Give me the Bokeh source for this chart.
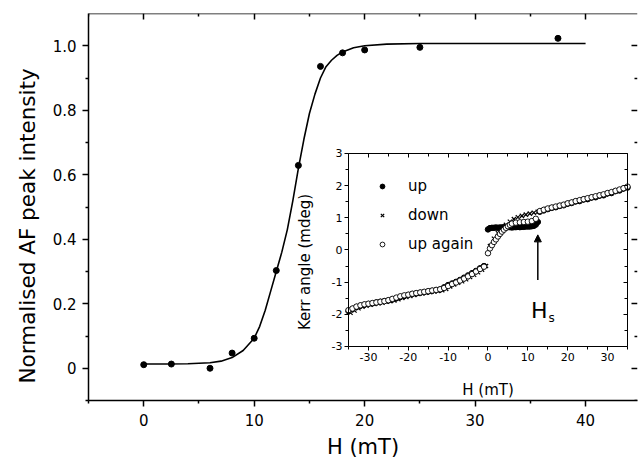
import math
from bokeh.plotting import figure
from bokeh.models import (Range1d, LinearAxis, FixedTicker, Legend, LegendItem,
                          Arrow, NormalHead, Label, Title, CustomJSTickFormatter)
from bokeh.embed import file_html
from bokeh.resources import INLINE

FONT = "DejaVu Sans"

# ---------------- main panel data ----------------
field_mT = [0, 2.5, 6, 8, 10, 12, 14, 16, 18, 20, 25, 37.5]
af_intensity = [0.011, 0.013, 0.0, 0.047, 0.093, 0.303, 0.629, 0.936, 0.978, 0.987, 0.995, 1.023]

fit_field = [0, 2, 4, 6, 7, 8, 9, 10, 10.5, 11, 11.5, 12, 12.5, 13, 13.5, 14, 14.5, 15,
             15.5, 16, 16.5, 17, 17.5, 18, 19, 20, 22, 25, 30, 35, 40]
fit_intensity = [0.013, 0.013, 0.014, 0.017, 0.022, 0.033, 0.055, 0.093, 0.13, 0.18, 0.24,
                 0.30, 0.36, 0.43, 0.52, 0.62, 0.71, 0.79, 0.85, 0.90, 0.935, 0.955, 0.97,
                 0.981, 0.994, 1.0, 1.005, 1.007, 1.007, 1.007, 1.007]

main_x_ticks = [0, 10, 20, 30, 40]
main_x_minor = [-5, 5, 15, 25, 35]
main_y_ticks = [0, 0.2, 0.4, 0.6, 0.8, 1.0]
main_y_minor = [-0.1, 0.1, 0.3, 0.5, 0.7, 0.9]

# ---------------- inset data (Kerr loops) ----------------
up_field = [-35, -34, -33, -32, -31, -30, -29, -28, -27, -26, -25, -24, -23, -22, -21, -20,
            -19, -18, -17, -16, -15, -14, -13, -12, -11, -10, -9, -8, -7, -6, -5, -4, -3, -2, -1,
            0, 0.5, 1, 1.5, 2, 2.5, 3, 3.5, 4, 4.5, 5, 5.5, 6, 6.5, 7, 7.5, 8, 8.5, 9, 9.5,
            10, 10.5, 11, 11.5, 12, 12.5,
            13, 14, 15, 16, 17, 18, 19, 20, 21, 22, 23, 24, 25, 26, 27, 28, 29, 30, 31, 32, 33, 34, 35]
up_kerr = [-1.90, -1.83, -1.77, -1.73, -1.70, -1.68, -1.66, -1.63, -1.61, -1.59, -1.57, -1.54,
           -1.50, -1.46, -1.43, -1.40, -1.37, -1.35, -1.33, -1.31, -1.29, -1.27, -1.25, -1.23,
           -1.16, -1.09, -1.04, -0.99, -0.93, -0.86, -0.79, -0.72, -0.65, -0.57, -0.50,
           0.64, 0.68, 0.69, 0.69, 0.70, 0.69, 0.70, 0.70, 0.71, 0.70, 0.71, 0.71, 0.70, 0.71,
           0.71, 0.72, 0.71, 0.72, 0.72, 0.73, 0.73, 0.73, 0.74, 0.75, 0.79, 0.87,
           1.19, 1.23, 1.27, 1.31, 1.33, 1.37, 1.39, 1.44, 1.46, 1.51, 1.52, 1.57, 1.58, 1.63,
           1.64, 1.69, 1.70, 1.76, 1.77, 1.83, 1.85, 1.91, 1.94]

down_field = [-34.5, -33.5, -32.5, -31.5, -30.5, -29.5, -28.5, -27.5, -26.5, -25.5, -24.5,
              -23.5, -22.5, -21.5, -20.5, -19.5, -18.5, -17.5, -16.5, -15.5, -14.5, -13.5,
              -12.5, -11.5, -10.5, -9.5, -8.5, -7.5, -6.5, -5.5, -4.5, -3.5, -2.5, -1.5, -0.5,
              0.5, 1.5, 2.5, 3.5, 4.5, 5.5, 6.5, 7.5, 8.5, 9.5, 10.5, 11.5, 12.5, 13.5, 14.5,
              15.5, 16.5, 17.5, 18.5, 19.5, 20.5, 21.5, 22.5, 23.5, 24.5, 25.5, 26.5, 27.5,
              28.5, 29.5, 30.5, 31.5, 32.5, 33.5, 34.5]
down_kerr = [-1.95, -1.88, -1.81, -1.76, -1.73, -1.70, -1.68, -1.66, -1.64, -1.61, -1.59,
             -1.57, -1.53, -1.49, -1.46, -1.43, -1.40, -1.37, -1.35, -1.33, -1.31, -1.29,
             -1.27, -1.25, -1.21, -1.13, -1.07, -1.02, -0.97, -0.91, -0.84, -0.77, -0.69,
             -0.61, -0.50,
             0.12, 0.35, 0.52, 0.66, 0.78, 0.88, 0.96, 1.02, 1.06, 1.10, 1.13, 1.16, 1.19,
             1.23, 1.27, 1.30, 1.33, 1.36, 1.39, 1.42, 1.45, 1.49, 1.52, 1.55, 1.58, 1.61,
             1.64, 1.67, 1.70, 1.73, 1.77, 1.81, 1.85, 1.89, 1.93]

again_field = [-35, -34, -33, -32, -31, -30, -29, -28, -27, -26, -25, -24, -23, -22, -21, -20,
               -19, -18, -17, -16, -15, -14, -13, -12, -11, -10, -9, -8, -7, -6, -5, -4, -3, -2, -1,
               0, 0.5, 1, 1.5, 2, 2.5, 3, 3.5, 4, 4.5, 5, 5.5, 6,
               7, 8, 9, 10, 11, 12,
               13, 14, 15, 16, 17, 18, 19, 20, 21, 22, 23, 24, 25, 26, 27, 28, 29, 30, 31, 32, 33, 34, 35]
again_kerr = [-1.87, -1.82, -1.76, -1.72, -1.69, -1.67, -1.65, -1.63, -1.61, -1.59, -1.56,
              -1.52, -1.48, -1.44, -1.41, -1.39, -1.36, -1.34, -1.32, -1.30, -1.28, -1.26,
              -1.24, -1.22, -1.18, -1.12, -1.06, -1.01, -0.95, -0.89, -0.82, -0.75, -0.67,
              -0.59, -0.52,
              -0.10, 0.05, 0.15, 0.25, 0.33, 0.42, 0.50, 0.57, 0.63, 0.69, 0.74, 0.78, 0.82,
              0.85, 0.86, 0.87, 0.88, 0.90, 0.97,
              1.21, 1.25, 1.29, 1.32, 1.35, 1.38, 1.41, 1.45, 1.48, 1.52, 1.55, 1.58, 1.61,
              1.64, 1.67, 1.70, 1.73, 1.77, 1.80, 1.84, 1.88, 1.92, 1.97]

inset_x_ticks = [-30, -20, -10, 0, 10, 20, 30]
inset_x_minor = [-35, -25, -15, -5, 5, 15, 25, 35]
inset_y_ticks = [-3, -2, -1, 0, 1, 2, 3]
inset_y_minor = [-2.5, -1.5, -0.5, 0.5, 1.5, 2.5]

hs_field = 12.5          # saturation field marked by the arrow
hs_arrow_from = -0.93
hs_arrow_to = 0.47

# ---------------- figure ----------------
p = figure(width=638, height=464, output_backend="svg", toolbar_location=None,
           x_range=Range1d(-5, 44.7), y_range=Range1d(-0.1, 1.1),
           x_axis_location=None, y_axis_location=None,
           min_border_left=88, min_border_right=1, min_border_top=13, min_border_bottom=64)
p.outline_line_color = None
p.background_fill_color = "white"
p.border_fill_color = "white"
for g in p.grid:
    g.visible = False

# inset ranges mapped so the inset box sits inside the frame
p.extra_x_ranges = {"ix": Range1d(-100.23, 37.51)}
p.extra_y_ranges = {"iy": Range1d(-4.679, 7.352)}


def style(ax, size="15px", lw=1.5, tin=0, tout=6, mtin=0, mtout=3, labels=True, standoff=7):
    ax.axis_line_width = lw
    ax.axis_line_color = "black"
    ax.major_tick_line_color = "black"
    ax.minor_tick_line_color = "black"
    ax.major_tick_line_width = lw
    ax.minor_tick_line_width = lw
    ax.major_tick_in = tin
    ax.major_tick_out = tout
    ax.minor_tick_in = mtin
    ax.minor_tick_out = mtout
    ax.major_label_text_font = FONT
    ax.major_label_text_font_size = size
    ax.major_label_text_color = "black"
    ax.major_label_standoff = standoff
    if not labels:
        ax.major_label_text_color = None


main_xt = FixedTicker(ticks=main_x_ticks, minor_ticks=main_x_minor)
main_yt = FixedTicker(ticks=main_y_ticks, minor_ticks=main_y_minor)

xb = LinearAxis(ticker=main_xt)
style(xb, tout=6, mtout=3, standoff=7)
xb.major_label_text_line_height = 0.9
p.add_layout(xb, "below")

xt = LinearAxis(ticker=main_xt, fixed_location=1.1)
style(xt, tin=6, tout=0, mtin=3, mtout=0, labels=False)
p.add_layout(xt, "above")

yl = LinearAxis(ticker=main_yt,
                formatter=CustomJSTickFormatter(code="return tick === 0 ? '0' : tick.toFixed(1);"))
style(yl, tout=6, mtout=3, standoff=6)
p.add_layout(yl, "left")

yr = LinearAxis(ticker=main_yt, fixed_location=44.7)
style(yr, tin=6, tout=0, mtin=3, mtout=0, labels=False)
yr.axis_line_color = None
p.add_layout(yr, "right")

# axis titles as side titles (allow shifting along the axis)
p.add_layout(Title(text="Normalised AF peak intensity", align="left", offset=17,
                   standoff=20, text_font=FONT, text_font_size="21.5px",
                   text_font_style="normal", text_line_height=0.8,
                   text_color="black"), "left")
p.add_layout(Title(text="H (mT)", align="center", standoff=9, text_font=FONT,
                   text_font_size="21px", text_font_style="normal", text_line_height=0.8,
                   text_color="black"), "below")

# main data
p.line(fit_field, fit_intensity, line_width=1.6, line_color="black")
p.scatter(field_mT, af_intensity, size=6, marker="circle", color="black")

# ---------------- inset ----------------
ixt = FixedTicker(ticks=inset_x_ticks, minor_ticks=inset_x_minor)
iyt = FixedTicker(ticks=inset_y_ticks, minor_ticks=inset_y_minor)
fmt0 = CustomJSTickFormatter(code="return tick.toFixed(0);")

ib = LinearAxis(x_range_name="ix", y_range_name="iy", fixed_location=-3, bounds=(-35, 35),
                ticker=ixt, formatter=fmt0)
style(ib, size="11px", lw=1, tout=4, mtout=3, standoff=3)
p.add_layout(ib, "below")

itop = LinearAxis(x_range_name="ix", y_range_name="iy", fixed_location=3, bounds=(-35, 35),
                  ticker=ixt)
style(itop, lw=1, tin=4, tout=0, mtin=3, mtout=0, labels=False)
p.add_layout(itop, "above")

il = LinearAxis(x_range_name="ix", y_range_name="iy", fixed_location=-35, bounds=(-3, 3),
                ticker=iyt, formatter=fmt0)
style(il, size="11px", lw=1, tout=4, mtout=3, standoff=2)
p.add_layout(il, "left")

ir = LinearAxis(x_range_name="ix", y_range_name="iy", fixed_location=35, bounds=(-3, 3),
                ticker=iyt)
style(ir, lw=1, tin=4, tout=0, mtin=3, mtout=0, labels=False)
p.add_layout(ir, "right")

r_up = p.scatter(up_field, up_kerr, x_range_name="ix", y_range_name="iy", marker="circle",
                 size=5.5, color="black")
r_down = p.scatter(down_field, down_kerr, x_range_name="ix", y_range_name="iy", marker="x",
                   size=6, line_color="black", line_width=1.2)
r_again = p.scatter(again_field, again_kerr, x_range_name="ix", y_range_name="iy",
                    marker="circle", size=5.5, line_color="black", fill_color="white",
                    line_width=0.9)

legend = Legend(items=[LegendItem(label="up", renderers=[r_up]),
                       LegendItem(label="down", renderers=[r_down]),
                       LegendItem(label="up again", renderers=[r_again])],
                location=(288, 146), orientation="vertical",
                label_text_font=FONT, label_text_font_size="15px", label_text_color="black",
                glyph_width=12, glyph_height=20, label_height=20, spacing=9,
                label_standoff=20, padding=0, margin=0,
                border_line_color=None, background_fill_alpha=0)
p.add_layout(legend)

p.add_layout(Label(x=0, y=-4.346, x_range_name="ix", y_range_name="iy", text="H (mT)",
                   text_font=FONT, text_font_size="15px", text_align="center",
                   text_baseline="alphabetic", text_color="black"))
p.add_layout(Label(x=-46.0, y=-0.373, x_range_name="ix", y_range_name="iy",
                   text="Kerr angle (mdeg)", text_font=FONT, text_font_size="15px",
                   angle=math.pi / 2, text_align="center", text_baseline="alphabetic",
                   text_color="black"))

p.add_layout(Arrow(x_start=hs_field, y_start=hs_arrow_from, x_end=hs_field, y_end=hs_arrow_to,
                   x_range_name="ix", y_range_name="iy", line_width=1.5, line_color="black",
                   end=NormalHead(size=7, fill_color="black", line_color="black")))
p.add_layout(Label(x=10.8, y=-1.88, x_range_name="ix", y_range_name="iy", text="H",
                   text_font=FONT, text_font_size="22px", text_baseline="alphabetic",
                   text_color="black"))
p.add_layout(Label(x=15.2, y=-2.10, x_range_name="ix", y_range_name="iy", text="s",
                   text_font=FONT, text_font_size="12px", text_baseline="alphabetic",
                   text_color="black"))

open("out.html", "w").write(file_html(p, INLINE))
